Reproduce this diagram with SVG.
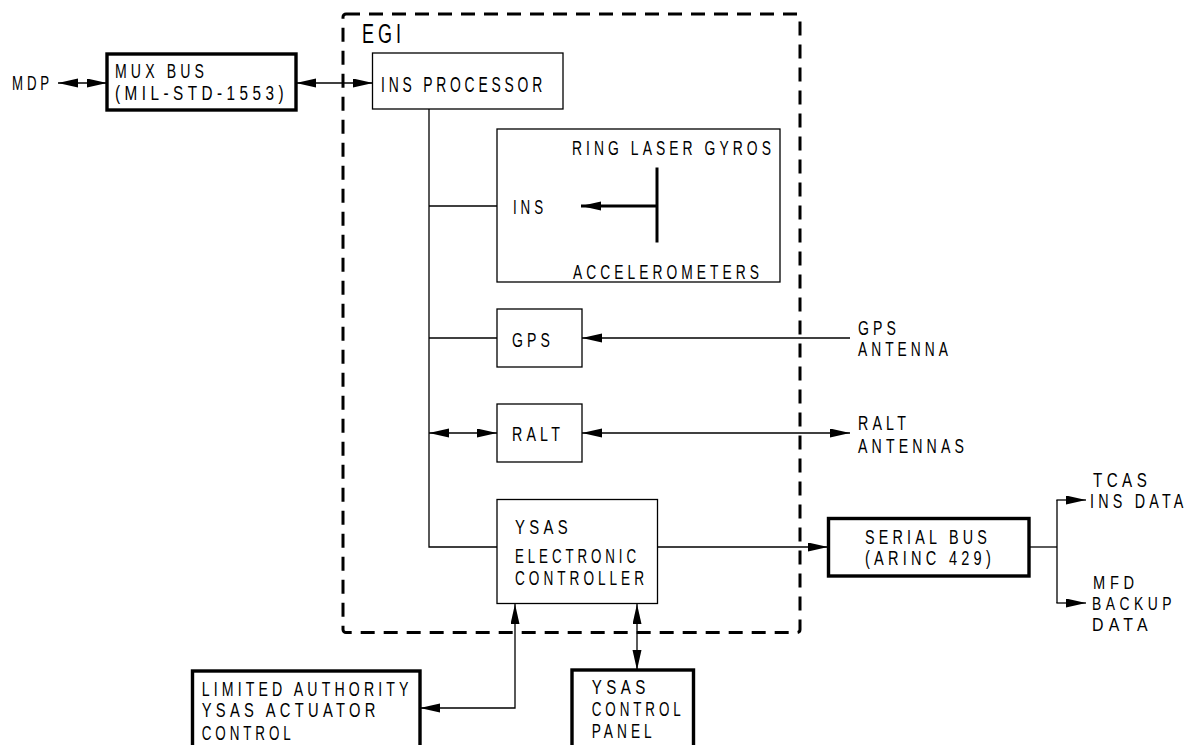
<svg xmlns="http://www.w3.org/2000/svg" width="1194" height="745" viewBox="0 0 1194 745">
<style>
text{font-family:"Liberation Sans",Arial,sans-serif;font-size:20.5px;letter-spacing:6px;fill:#000}
.big{font-size:27px}
.mid{font-size:22px}
.sm{font-size:18.5px}
.thin{fill:#fff;stroke:#000;stroke-width:1.3}
.thick{fill:#fff;stroke:#000;stroke-width:3.4}
.ln{fill:none;stroke:#000;stroke-width:1.3}
.bold{fill:none;stroke:#000;stroke-width:3}
</style>
<defs>
<marker id="ah" markerUnits="userSpaceOnUse" markerWidth="22" markerHeight="12" refX="20" refY="4.5" orient="auto-start-reverse">
<path d="M0,0 L20,4.5 L0,9 Z" fill="#000"/>
</marker>
</defs>
<rect id="egi" x="343" y="14" width="457" height="618.5" rx="3" fill="none" stroke="#000" stroke-width="3" stroke-dasharray="14,9"/>
<text class="big" x="362" y="43" textLength="43" lengthAdjust="spacingAndGlyphs">EGI</text>
<g id="connectors">
<line class="ln" x1="58" y1="83" x2="107" y2="83" marker-start="url(#ah)" marker-end="url(#ah)"/>
<line class="ln" x1="296" y1="83" x2="373" y2="83" marker-start="url(#ah)" marker-end="url(#ah)"/>
<polyline class="ln" points="429,109 429,547 497,547"/>
<line class="ln" x1="429" y1="206" x2="497" y2="206"/>
<line class="ln" x1="429" y1="338" x2="497" y2="338"/>
<line class="ln" x1="429" y1="433" x2="497" y2="433" marker-start="url(#ah)" marker-end="url(#ah)"/>
<line class="ln" x1="850" y1="338" x2="582" y2="338" marker-end="url(#ah)"/>
<line class="ln" x1="582" y1="433" x2="850" y2="433" marker-start="url(#ah)" marker-end="url(#ah)"/>
<line class="ln" x1="657" y1="547" x2="828" y2="547" marker-end="url(#ah)"/>
<line class="ln" x1="1029" y1="547" x2="1057" y2="547"/>
<line class="ln" x1="1057" y1="500" x2="1057" y2="603"/>
<line class="ln" x1="1056.4" y1="500" x2="1086" y2="500" marker-end="url(#ah)"/>
<line class="ln" x1="1056.4" y1="603" x2="1086" y2="603" marker-end="url(#ah)"/>
<polyline class="ln" points="420,708 515,708 515,604" marker-start="url(#ah)" marker-end="url(#ah)"/>
<line class="ln" x1="637" y1="604" x2="637" y2="670" marker-start="url(#ah)" marker-end="url(#ah)"/>
</g>
<g id="mdp"><text x="12" y="89.5" textLength="41" lengthAdjust="spacingAndGlyphs">MDP</text></g>
<g id="muxbus">
<rect class="thick" x="107" y="54" width="189" height="56"/>
<text x="115" y="77.7" textLength="93" lengthAdjust="spacingAndGlyphs">MUX BUS</text>
<text x="115" y="100" textLength="173" lengthAdjust="spacingAndGlyphs">(MIL-STD-1553)</text>
</g>
<g id="insproc">
<rect class="thin" x="372.5" y="53" width="190.5" height="56"/>
<text class="mid" x="381" y="91.5" textLength="165" lengthAdjust="spacingAndGlyphs">INS PROCESSOR</text>
</g>
<g id="ins">
<rect class="thin" x="497" y="129" width="283" height="153"/>
<text x="572" y="155" textLength="203" lengthAdjust="spacingAndGlyphs">RING LASER GYROS</text>
<text x="513" y="214" textLength="34" lengthAdjust="spacingAndGlyphs">INS</text>
<text x="573" y="278.5" textLength="190" lengthAdjust="spacingAndGlyphs">ACCELEROMETERS</text>
<line class="bold" x1="657" y1="167.5" x2="657" y2="242.5"/>
<line class="bold" x1="657" y1="206" x2="581" y2="206" marker-end="url(#ah)"/>
</g>
<g id="gps">
<rect class="thin" x="497" y="309" width="85" height="58"/>
<text x="512" y="346.5" textLength="42" lengthAdjust="spacingAndGlyphs">GPS</text>
</g>
<g id="gpsant"><text x="858" y="335" textLength="42" lengthAdjust="spacingAndGlyphs">GPS</text><text x="858" y="356" textLength="94" lengthAdjust="spacingAndGlyphs">ANTENNA</text></g>
<g id="ralt">
<rect class="thin" x="497" y="404" width="85" height="58"/>
<text x="512" y="441" textLength="52" lengthAdjust="spacingAndGlyphs">RALT</text>
</g>
<g id="raltant"><text x="858" y="430" textLength="52" lengthAdjust="spacingAndGlyphs">RALT</text><text x="858" y="452.5" textLength="110" lengthAdjust="spacingAndGlyphs">ANTENNAS</text></g>
<g id="ysas">
<rect class="thin" x="497" y="499.5" width="160.5" height="104"/>
<text x="515" y="534.3" textLength="57" lengthAdjust="spacingAndGlyphs">YSAS</text>
<text x="515" y="563.3" textLength="125" lengthAdjust="spacingAndGlyphs">ELECTRONIC</text>
<text x="515" y="585" textLength="133" lengthAdjust="spacingAndGlyphs">CONTROLLER</text>
</g>
<g id="serialbus">
<rect class="thick" x="828.5" y="518.5" width="200.5" height="57.5"/>
<text x="865" y="544.3" textLength="126" lengthAdjust="spacingAndGlyphs">SERIAL BUS</text>
<text x="865" y="565" textLength="130" lengthAdjust="spacingAndGlyphs">(ARINC 429)</text>
</g>
<g id="tcas">
<text transform="translate(1093,486.7) scale(0.74,1)">TCAS</text>
<text transform="translate(1090,508) scale(0.7,1)">INS DATA</text>
</g>
<g id="mfd">
<text class="sm" transform="translate(1093,589) scale(0.79,1)">MFD</text>
<text class="sm" transform="translate(1092,610) scale(0.75,1)">BACKUP</text>
<text class="sm" transform="translate(1092,631) scale(0.86,1)">DATA</text>
</g>
<g id="limited">
<rect class="thick" x="192.5" y="671" width="227.5" height="90"/>
<text x="201.7" y="696" textLength="211" lengthAdjust="spacingAndGlyphs">LIMITED AUTHORITY</text>
<text x="201.7" y="717.3" textLength="178" lengthAdjust="spacingAndGlyphs">YSAS ACTUATOR</text>
<text x="201.7" y="739.5" textLength="93" lengthAdjust="spacingAndGlyphs">CONTROL</text>
</g>
<g id="panel">
<rect class="thick" x="572" y="670" width="121.5" height="90"/>
<text x="591.7" y="694" textLength="58" lengthAdjust="spacingAndGlyphs">YSAS</text>
<text x="591.7" y="715.5" textLength="93" lengthAdjust="spacingAndGlyphs">CONTROL</text>
<text x="591.7" y="737.5" textLength="64" lengthAdjust="spacingAndGlyphs">PANEL</text>
</g>
</svg>
